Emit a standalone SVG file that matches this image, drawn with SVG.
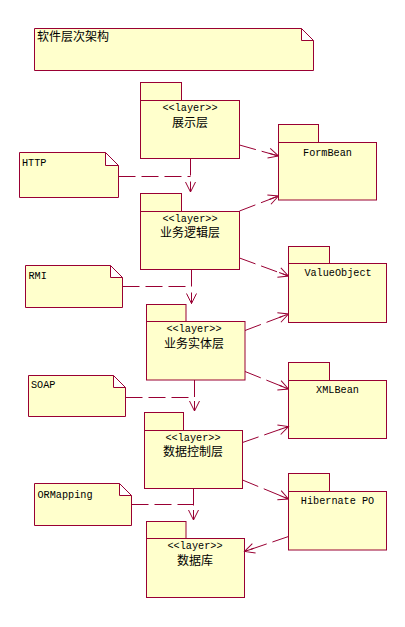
<svg xmlns="http://www.w3.org/2000/svg" width="405" height="627" viewBox="0 0 405 627">
<style>
.shape{fill:#FFFFCC;stroke:#990033;stroke-width:1}
.lat{font-family:"Liberation Mono","DejaVu Sans Mono",monospace;font-size:10.2px;fill:#000}
.cjk{font-family:"Noto Sans CJK SC","Noto Sans CJK JP",sans-serif;font-size:12px;fill:#000}
.mid{text-anchor:middle}
.conn{fill:none;stroke:#990033;stroke-width:1;stroke-dasharray:17 6}
</style>
<defs>
<marker id="arr" viewBox="-11 -6 12 12" markerWidth="12" markerHeight="12" refX="0" refY="0" orient="auto" markerUnits="userSpaceOnUse">
<path d="M-10,-5 L0,0 L-10,5 M-10,0 L0,0" fill="none" stroke="#990033" stroke-width="1" stroke-dasharray="none"/>
</marker>
</defs>
<rect width="405" height="627" fill="#fff"/>

<g id="title-note">
<path class="shape" d="M34.5,28.5 H301.5 L313.5,40.5 V70.5 H34.5 Z M301.5,28.5 V40.5 H313.5"/>
<text class="cjk" x="37" y="41">软件层次架构</text>
</g>

<g id="note-http">
<path class="shape" d="M19.5,152.5 H105.5 L118.5,165.5 V197.5 H19.5 Z M105.5,152.5 V165.5 H118.5"/>
<text class="lat" x="22" y="165.5">HTTP</text>
</g>
<g id="note-rmi">
<path class="shape" d="M25.5,265.5 H110.5 L122.5,277.5 V307.5 H25.5 Z M110.5,265.5 V277.5 H122.5"/>
<text class="lat" x="28.5" y="279">RMI</text>
</g>
<g id="note-soap">
<path class="shape" d="M28.5,375.5 H113.5 L125.5,387.5 V416.5 H28.5 Z M113.5,375.5 V387.5 H125.5"/>
<text class="lat" x="31" y="388">SOAP</text>
</g>
<g id="note-ormapping">
<path class="shape" d="M34.5,483.5 H119.5 L131.5,495.5 V525.5 H34.5 Z M119.5,483.5 V495.5 H131.5"/>
<text class="lat" x="37.5" y="497.5">ORMapping</text>
</g>

<g id="pkg-presentation">
<rect class="shape" x="140.5" y="82.5" width="41" height="18"/>
<rect class="shape" x="140.5" y="100.5" width="99" height="58"/>
<text class="lat mid" x="190" y="110.5">&lt;&lt;layer&gt;&gt;</text>
<text class="cjk mid" x="190" y="127">展示层</text>
</g>
<g id="pkg-business-logic">
<rect class="shape" x="140.5" y="193.5" width="41" height="18"/>
<rect class="shape" x="140.5" y="211.5" width="99" height="58"/>
<text class="lat mid" x="190" y="221.5">&lt;&lt;layer&gt;&gt;</text>
<text class="cjk mid" x="190" y="237">业务逻辑层</text>
</g>
<g id="pkg-business-entity">
<rect class="shape" x="146.5" y="304.5" width="39.5" height="17"/>
<rect class="shape" x="146.5" y="321.5" width="98.5" height="58.5"/>
<text class="lat mid" x="194" y="332">&lt;&lt;layer&gt;&gt;</text>
<text class="cjk mid" x="194" y="347.5">业务实体层</text>
</g>
<g id="pkg-data-control">
<rect class="shape" x="144.5" y="412.5" width="39" height="18"/>
<rect class="shape" x="144.5" y="430.5" width="98" height="58"/>
<text class="lat mid" x="193" y="440.5">&lt;&lt;layer&gt;&gt;</text>
<text class="cjk mid" x="193" y="456">数据控制层</text>
</g>
<g id="pkg-database">
<rect class="shape" x="146.5" y="521.5" width="39.5" height="17"/>
<rect class="shape" x="146.5" y="538.5" width="98" height="59"/>
<text class="lat mid" x="195" y="548.5">&lt;&lt;layer&gt;&gt;</text>
<text class="cjk mid" x="195" y="565">数据库</text>
</g>

<g id="pkg-formbean">
<rect class="shape" x="278.5" y="124.5" width="40" height="18"/>
<rect class="shape" x="278.5" y="142.5" width="98" height="57.5"/>
<text class="lat mid" x="327.5" y="155.5">FormBean</text>
</g>
<g id="pkg-valueobject">
<rect class="shape" x="288.5" y="246.5" width="41" height="17"/>
<rect class="shape" x="288.5" y="263.5" width="98" height="59"/>
<text class="lat mid" x="338" y="276">ValueObject</text>
</g>
<g id="pkg-xmlbean">
<rect class="shape" x="288.5" y="362.5" width="41" height="18"/>
<rect class="shape" x="288.5" y="380.5" width="98" height="58"/>
<text class="lat mid" x="337.5" y="392.5">XMLBean</text>
</g>
<g id="pkg-hibernate">
<rect class="shape" x="288.5" y="473.5" width="41" height="18"/>
<rect class="shape" x="288.5" y="491.5" width="98" height="58.5"/>
<text class="lat mid" x="337.5" y="504">Hibernate PO</text>
</g>

<g id="connectors">
<line class="conn" x1="190.5" y1="158.5" x2="190.5" y2="192" marker-end="url(#arr)"/>
<line class="conn" x1="118.5" y1="176.5" x2="190.5" y2="176.5"/>
<line class="conn" x1="239.5" y1="145" x2="278.5" y2="156" marker-end="url(#arr)"/>
<line class="conn" x1="239.5" y1="211" x2="278.5" y2="196" marker-end="url(#arr)"/>
<line class="conn" x1="191.5" y1="269.5" x2="191.5" y2="303.5" marker-end="url(#arr)"/>
<line class="conn" x1="122.5" y1="286.5" x2="191.5" y2="286.5"/>
<line class="conn" x1="239.5" y1="258" x2="288.5" y2="276" marker-end="url(#arr)"/>
<line class="conn" x1="245" y1="330.5" x2="288.5" y2="314" marker-end="url(#arr)"/>
<line class="conn" x1="245" y1="371.5" x2="288.5" y2="389" marker-end="url(#arr)"/>
<line class="conn" x1="194.5" y1="380" x2="194.5" y2="411" marker-end="url(#arr)"/>
<line class="conn" x1="125.5" y1="397.5" x2="194.5" y2="397.5"/>
<line class="conn" x1="242.5" y1="442.5" x2="288.5" y2="426.5" marker-end="url(#arr)"/>
<line class="conn" x1="242.5" y1="480" x2="288.5" y2="499" marker-end="url(#arr)"/>
<line class="conn" x1="193.5" y1="488.5" x2="193.5" y2="520" marker-end="url(#arr)"/>
<line class="conn" x1="131.5" y1="504.5" x2="193.5" y2="504.5"/>
<line class="conn" x1="288.5" y1="536.5" x2="244.5" y2="551.5" marker-end="url(#arr)"/>
</g>
</svg>
